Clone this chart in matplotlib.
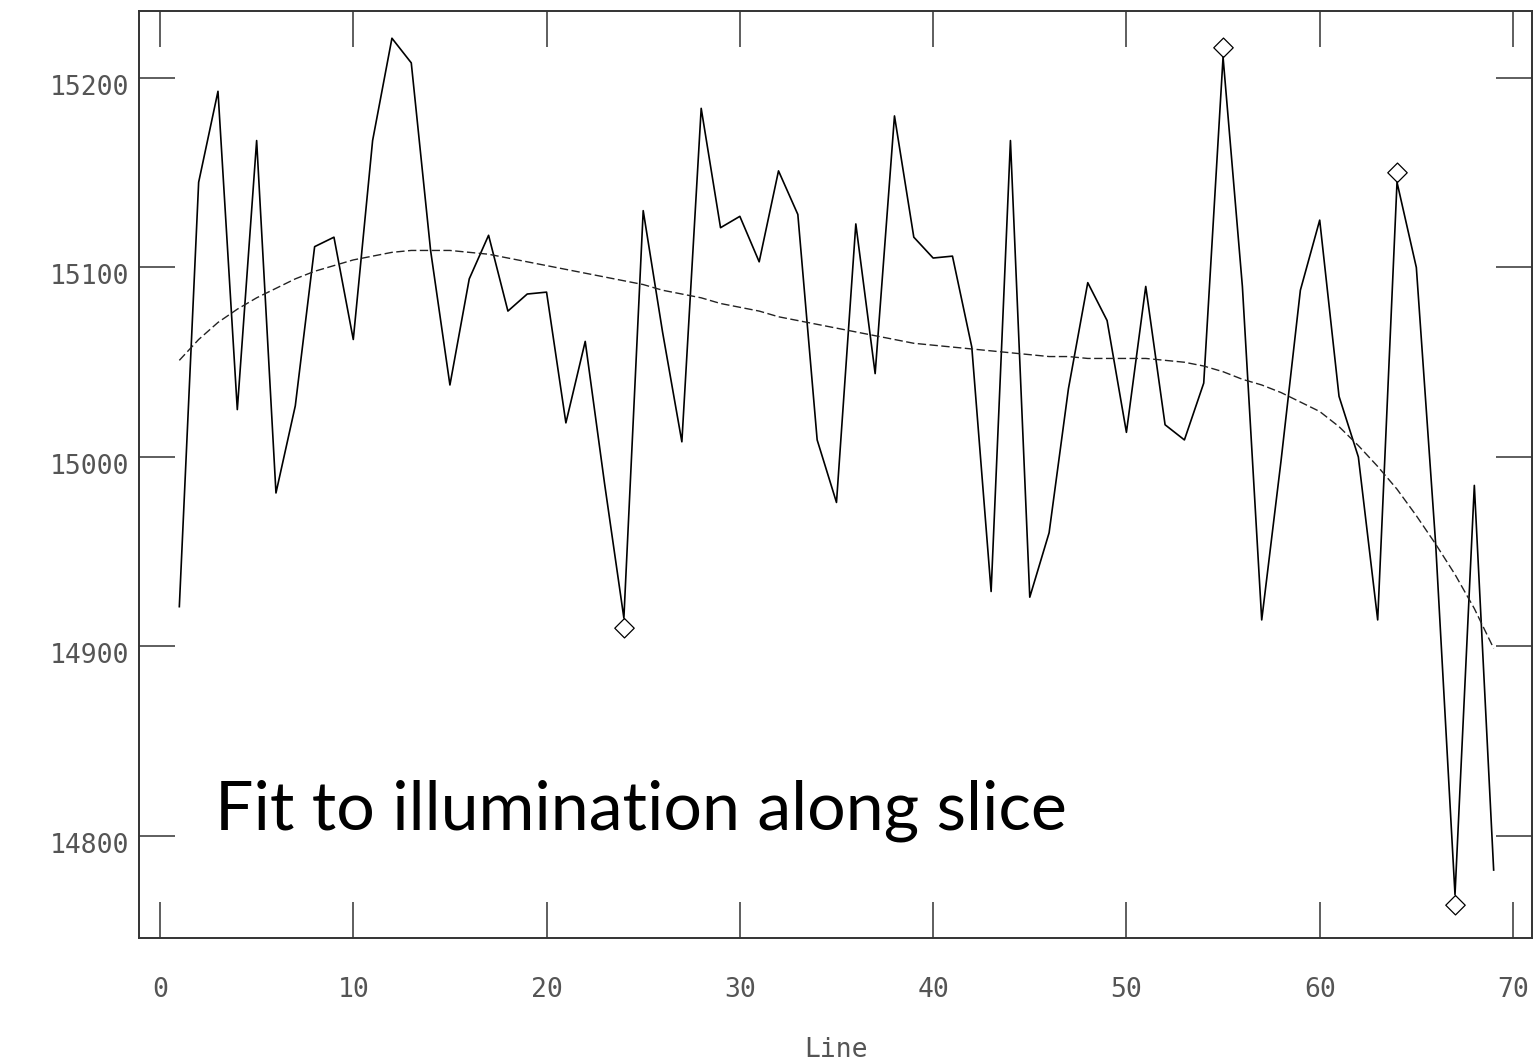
import numpy as np
import matplotlib.pyplot as plt
from matplotlib.path import Path
from matplotlib.transforms import ScaledTranslation


# illumination along the slice, one value per line
lines = list(range(1, 70))
counts = [14921, 15145, 15193, 15025, 15167, 14981, 15027, 15111, 15116, 15062,
          15167, 15221, 15208, 15109, 15038, 15094, 15117, 15077, 15086, 15087,
          15018, 15061, 14986, 14915, 15130, 15066, 15008, 15184, 15121, 15127,
          15103, 15151, 15128, 15009, 14976, 15123, 15044, 15180, 15116, 15105,
          15106, 15058, 14929, 15167, 14926, 14960, 15036, 15092, 15072, 15013,
          15090, 15017, 15009, 15039, 15211, 15090, 14914, 14998, 15088, 15125,
          15032, 15000, 14914, 15145, 15100, 14954, 14769, 14985, 14782]

# fitted curve
fit = [15051, 15062, 15071, 15078, 15084, 15089, 15094, 15098, 15101, 15104,
       15106, 15108, 15109, 15109, 15109, 15108, 15107, 15105, 15103, 15101,
       15099, 15097, 15095, 15093, 15091, 15088, 15086, 15084, 15081, 15079,
       15077, 15074, 15072, 15070, 15068, 15066, 15064, 15062, 15060, 15059,
       15058, 15057, 15056, 15055, 15054, 15053, 15053, 15052, 15052, 15052,
       15052, 15051, 15050, 15048, 15045, 15041, 15038, 15034, 15029, 15024,
       15016, 15006, 14995, 14983, 14969, 14954, 14938, 14920, 14899]

# rejected points (line numbers)
rejected = [24, 55, 64, 67]

xticks = [0, 10, 20, 30, 40, 50, 60, 70]
yticks = [14800, 14900, 15000, 15100, 15200]

plt.rcParams['font.family'] = ['DejaVu Sans Mono']

fig = plt.figure(figsize=(15.36, 10.63), dpi=100)
ax = fig.add_axes([0.0907, 0.1179, 0.9069, 0.8718])

ax.plot(lines, counts, color='black', linewidth=1.2)
ax.plot(lines, fit, color='#222222', linewidth=1.0, linestyle=(0, (6, 2.5)))

# diamond with a vertex on the point, pointing away from the fit
up_diamond = Path([(0, 0), (1, 1), (0, 2), (-1, 1), (0, 0)])
down_diamond = Path([(0, 0), (1, -1), (0, -2), (-1, -1), (0, 0)])
for r in rejected:
    i = lines.index(r)
    mk = up_diamond if counts[i] > fit[i] else down_diamond
    ax.plot([r], [counts[i]], linestyle='none', marker=mk, markersize=28,
            markerfacecolor='none', markeredgecolor='black', markeredgewidth=0.9)

ax.set_xlim(-1.07, 71.0)
ax.set_ylim(14746.3, 15235.4)
ax.set_xticks(xticks)
ax.set_yticks(yticks)
ax.tick_params(which='major', direction='in', length=26, width=1.1,
               top=True, right=True, colors='#333333', labelcolor='#555555',
               labelsize=19)
ax.tick_params(axis='x', pad=28)
ax.tick_params(axis='y', pad=7)
for s in ax.spines.values():
    s.set_linewidth(1.4)
    s.set_color('#333333')

# y labels sit a little below their ticks
shift = ScaledTranslation(0, -0.07, fig.dpi_scale_trans)
for lab in ax.get_yticklabels():
    lab.set_transform(lab.get_transform() + shift)

ax.set_xlabel('Line', fontsize=19, color='#555555', va='center')
ax.xaxis.set_label_coords(0.5, -0.121)

ax.text(0.0543, 0.1162, 'Fit to illumination along slice', transform=ax.transAxes,
        fontsize=49, family=['Lato', 'DejaVu Sans'], color='black',
        ha='left', va='baseline')

plt.savefig('out.png', dpi=100)
